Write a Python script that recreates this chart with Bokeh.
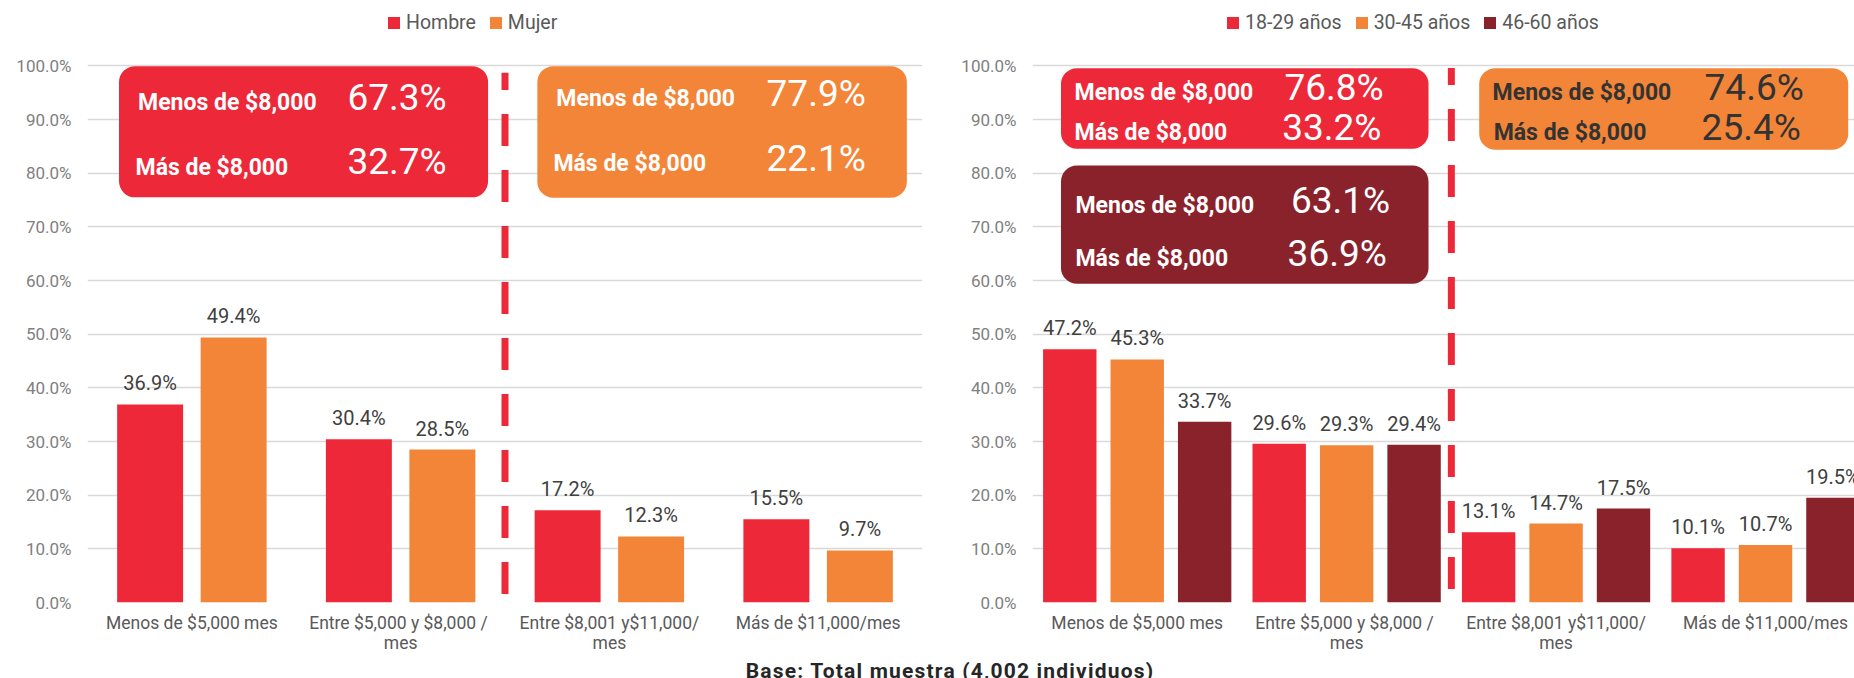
from bokeh.plotting import figure
from bokeh.models import (FixedTicker, PrintfTickFormatter, Legend, LegendItem,
                          ColumnDataSource, Div, Range1d)
from bokeh.layouts import row, column
from bokeh.transform import dodge
from bokeh.embed import file_html
from bokeh.resources import INLINE
from bokeh.core.properties import value

# ---------------- data ----------------
categories = ["Menos de $5,000 mes", "Entre $5,000 y $8,000  /\nmes",
              "Entre $8,001 y$11,000/\nmes", "Más de $11,000/mes"]
gender_series = ["Hombre", "Mujer"]
hombre = [36.9, 30.4, 17.2, 15.5]
mujer = [49.4, 28.5, 12.3, 9.7]

age_series = ["18-29 años", "30-45 años", "46-60 años"]
age_18_29 = [47.2, 29.6, 13.1, 10.1]
age_30_45 = [45.3, 29.3, 14.7, 10.7]
age_46_60 = [33.7, 29.4, 17.5, 19.5]

y_ticks = [0, 10, 20, 30, 40, 50, 60, 70, 80, 90, 100]

summary_labels = ["Menos de $8,000", "Más de $8,000"]
hombre_summary = [67.3, 32.7]
mujer_summary = [77.9, 22.1]
age_18_29_summary = [76.8, 33.2]
age_30_45_summary = [74.6, 25.4]
age_46_60_summary = [63.1, 36.9]

footer_text = "Base: Total muestra (4,002 individuos)"

# ---------------- style ----------------
RED = "#ED2939"
ORANGE = "#F28538"
DARK = "#8A222C"
FONT = "Roboto"
Y_TOP = 112.18   # frame reaches the top of the canvas so the legend sits inside it


def make_fig(width, border_left, border_right, x_end):
    p = figure(width=width, height=655, output_backend="svg", toolbar_location=None,
               x_range=Range1d(-0.5, x_end), y_range=Range1d(0, Y_TOP),
               min_border_left=border_left, min_border_right=border_right,
               min_border_top=0, min_border_bottom=53)
    p.outline_line_color = None
    p.background_fill_color = "white"
    p.border_fill_color = "white"
    p.xgrid.visible = False
    p.ygrid.grid_line_color = "#D9D9D9"
    p.ygrid.grid_line_width = 1.6
    p.ygrid.ticker = FixedTicker(ticks=y_ticks)

    p.yaxis.ticker = FixedTicker(ticks=y_ticks)
    p.yaxis.formatter = PrintfTickFormatter(format="%.1f%%")
    p.yaxis.axis_line_color = None
    p.yaxis.major_tick_line_color = None
    p.yaxis.minor_tick_line_color = None
    p.yaxis.major_tick_out = 0
    p.yaxis.major_label_standoff = 16
    p.yaxis.major_label_text_font = FONT
    p.yaxis.major_label_text_font_size = "17px"
    p.yaxis.major_label_text_color = "#808080"

    p.xaxis.ticker = FixedTicker(ticks=[0, 1, 2, 3])
    p.xaxis.major_label_overrides = {i: c for i, c in enumerate(categories)}
    p.xaxis.axis_line_color = None
    p.xaxis.major_tick_line_color = None
    p.xaxis.minor_tick_line_color = None
    p.xaxis.major_tick_out = 0
    p.xaxis.major_label_standoff = 10
    p.xaxis.major_label_text_font = FONT
    p.xaxis.major_label_text_font_size = "17.5px"
    p.xaxis.major_label_text_line_height = 1.0
    p.xaxis.major_label_text_color = "#595959"
    return p


def add_bars(p, series_names, series_vals, colors, offsets, bar_w):
    items = []
    for name, vals, col, off in zip(series_names, series_vals, colors, offsets):
        src = ColumnDataSource(dict(x=list(range(len(categories))), val=vals,
                                    lbl=[f"{v:.1f}%" for v in vals]))
        r = p.vbar(x=dodge("x", off, range=p.x_range), top="val", width=bar_w, source=src,
                   fill_color=col, line_color=None)
        p.text(x=dodge("x", off, range=p.x_range), y="val", text="lbl", source=src,
               text_align="center", text_baseline="middle", y_offset=-21,
               text_font=value(FONT), text_font_size="20px", text_color="#404040")
        items.append(LegendItem(label=name, renderers=[r]))
    return items


def add_legend(p, items, vx):
    leg = Legend(items=items, orientation="horizontal", location=(vx, 568),
                 glyph_width=15, glyph_height=15, label_height=20,
                 label_standoff=5, spacing=12, padding=0, margin=0,
                 border_line_color=None, background_fill_alpha=0,
                 label_text_font=FONT, label_text_font_size="19.5px",
                 label_text_color="#595959")
    p.add_layout(leg, "center")


def add_box(p, l, r, t, b, color, label_pos, number_pos, numbers, txt_color, radius=16):
    p.quad(left=[l], right=[r], top=[t], bottom=[b], fill_color=color,
           line_color=None, border_radius=radius)
    p.text(x=[q[0] for q in label_pos], y=[q[1] for q in label_pos], text=summary_labels,
           text_align="left", text_baseline="middle", text_font=value(FONT),
           text_font_size="23px", text_font_style="bold", text_color=txt_color)
    p.text(x=[q[0] for q in number_pos], y=[q[1] for q in number_pos],
           text=[f"{v:.1f}%" for v in numbers],
           text_align="left", text_baseline="middle", text_font=value(FONT),
           text_font_size="37px", text_color=txt_color)


# ---------------- left chart (gender) ----------------
p1 = make_fig(940, 87, 18, 3.5)
items1 = add_bars(p1, gender_series, [hombre, mujer], [RED, ORANGE], [-0.2, 0.2], 0.316)
p1.line(x=[1.5, 1.5], y=[1.6, 98.7], line_color=RED, line_width=7, line_dash="32 24")
add_box(p1, -0.349, 1.419, 99.94, 75.5, RED,
        [(-0.258, 93.21), (-0.27, 81.12)], [(0.745, 94.18), (0.745, 82.09)],
        hombre_summary, "white")
add_box(p1, 1.655, 3.425, 99.94, 75.42, ORANGE,
        [(1.746, 93.83), (1.732, 81.85)], [(2.753, 94.85), (2.753, 82.70)],
        mujer_summary, "white")
add_legend(p1, items1, 299)

# ---------------- right chart (age) ----------------
p2 = make_fig(914, 92, 0, 3.425)
items2 = add_bars(p2, age_series, [age_18_29, age_30_45, age_46_60],
                  [RED, ORANGE, DARK], [-0.322, 0.0, 0.322], 0.255)
p2.line(x=[1.5, 1.5], y=[2.5, 99.6], line_color=RED, line_width=7, line_dash="32 24")
add_box(p2, -0.364, 1.391, 99.57, 84.55, RED,
        [(-0.299, 95.0), (-0.299, 87.64)], [(0.703, 95.93), (0.692, 88.55)],
        age_18_29_summary, "white")
add_box(p2, 1.633, 3.395, 99.57, 84.36, ORANGE,
        [(1.697, 95.0), (1.702, 87.64)], [(2.709, 95.93), (2.695, 88.55)],
        age_30_45_summary, "#333333")
add_box(p2, -0.364, 1.391, 81.43, 59.39, DARK,
        [(-0.295, 74.04), (-0.295, 64.07)], [(0.734, 74.97), (0.718, 65.07)],
        age_46_60_summary, "white")
add_legend(p2, items2, 193)

footer = Div(text=(f'<div style="box-sizing:border-box;font-family:Roboto;font-weight:bold;'
                   f'font-size:21px;letter-spacing:1.2px;line-height:23px;color:#262626;'
                   f'text-align:center;padding-left:36px;white-space:nowrap;width:1854px">'
                   f'{footer_text}</div>'),
             width=1854, height=23, styles={"overflow": "hidden"})

layout = column(row(p1, p2), footer)

with open("out.html", "w") as f:
    f.write(file_html(layout, INLINE))
